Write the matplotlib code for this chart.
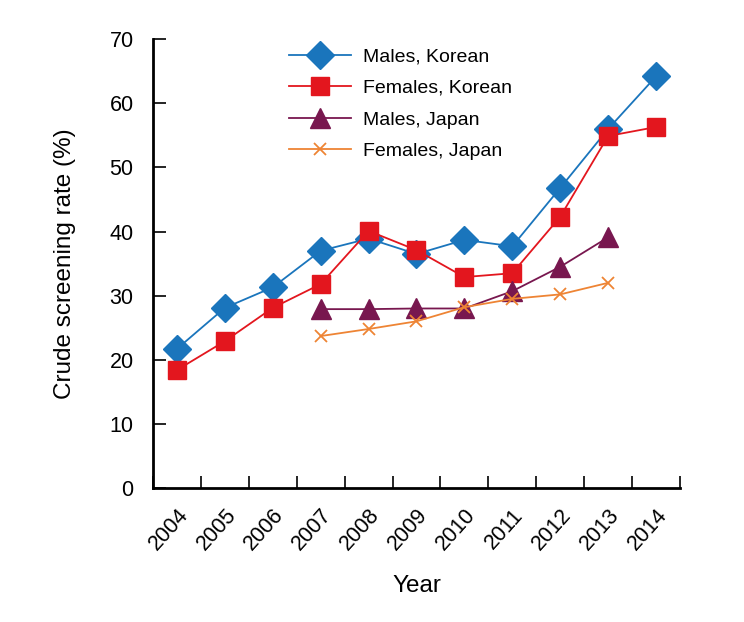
import numpy as np
import matplotlib.pyplot as plt
from matplotlib.ticker import FixedLocator

plt.rcParams['font.family'] = ['Liberation Sans', 'DejaVu Sans']

years = ['2004', '2005', '2006', '2007', '2008', '2009', '2010', '2011', '2012', '2013', '2014']
males_korean = [21.7, 28.1, 31.3, 37.0, 38.9, 36.5, 38.7, 37.7, 46.8, 56.0, 64.2]
females_korean = [18.4, 22.9, 28.1, 31.8, 40.1, 37.1, 32.9, 33.5, 42.3, 54.9, 56.3]
japan_years = ['2007', '2008', '2009', '2010', '2011', '2012', '2013']
males_japan = [27.9, 27.9, 28.0, 28.0, 30.7, 34.5, 39.1]
females_japan = [23.7, 24.8, 26.0, 28.2, 29.5, 30.2, 32.0]

x = np.arange(len(years))
xj = np.array([years.index(y) for y in japan_years])

fig = plt.figure(figsize=(7.44, 6.22), dpi=100)
ax = fig.add_axes([0.2056, 0.2154, 0.7084, 0.7216])

ax.plot(x, males_korean, color='#1a75bc', lw=1.3, marker='D', ms=14,
        mec='#1a75bc', label='Males, Korean')
ax.plot(x, females_korean, color='#e3161e', lw=1.3, marker='s', ms=13,
        mec='#e3161e', label='Females, Korean')
ax.plot(xj, males_japan, color='#78174f', lw=1.3, marker='^', ms=14,
        mec='#78174f', label='Males, Japan')
ax.plot(xj, females_japan, color='#ee8434', lw=1.3, marker='x', ms=9,
        mew=1.3, label='Females, Japan')

ax.set_xlim(-0.5, len(years) - 0.5)
ax.set_ylim(0, 70)
ax.set_yticks(np.arange(0, 71, 10))
ax.set_xticks(x)
ax.set_xticklabels(years, rotation=48, ha='right', va='top', rotation_mode='anchor')
ax.xaxis.set_minor_locator(FixedLocator(np.arange(-0.5, len(years), 1.0)))
ax.tick_params(axis='x', which='major', length=0, pad=12, labelsize=15.5)
ax.tick_params(axis='x', which='minor', direction='in', length=9, width=1.2)
ax.tick_params(axis='y', direction='in', length=9, width=1.2, labelsize=15.5, pad=14)

for side in ['top', 'right']:
    ax.spines[side].set_visible(False)
for side in ['left', 'bottom']:
    ax.spines[side].set_linewidth(2)

ax.set_ylabel('Crude screening rate (%)', fontsize=17.5, labelpad=24)
ax.set_xlabel('Year', fontsize=17.5, labelpad=15)

ax.legend(loc='upper left', bbox_to_anchor=(0.225, 1.02), frameon=False,
          fontsize=14, handlelength=3.2, labelspacing=0.72, handletextpad=0.6)

fig.savefig('out.png', dpi=100)
